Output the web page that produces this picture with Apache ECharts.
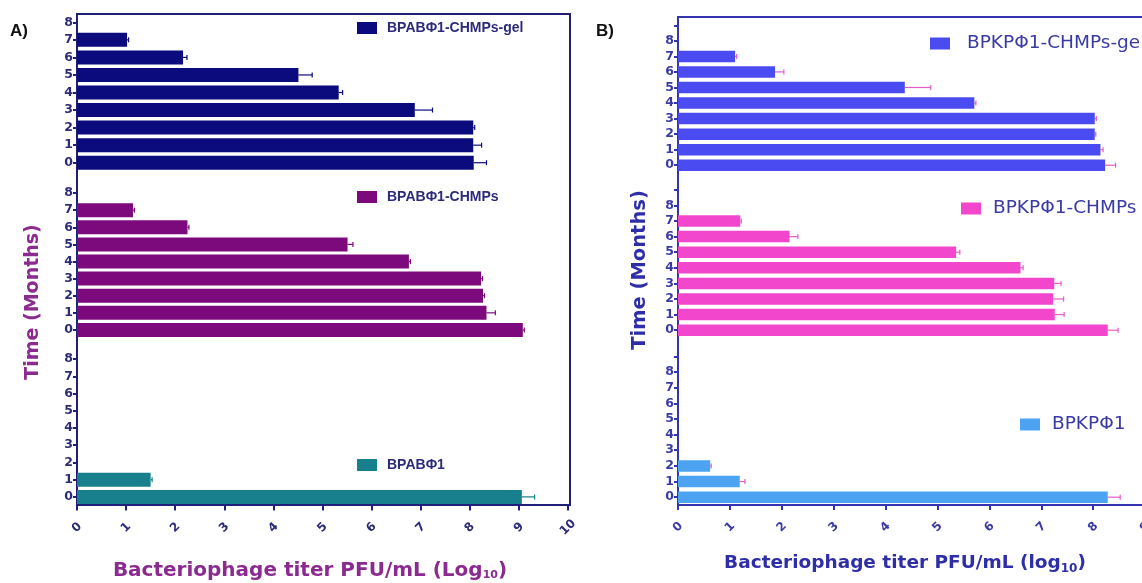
<!DOCTYPE html>
<html>
<head>
<meta charset="utf-8">
<script src="https://cdn.jsdelivr.net/npm/echarts@6/dist/echarts.min.js"></script>
<style>
  html, body { margin: 0; padding: 0; background: #fff; }
  #chart { width: 1142px; height: 583px; }
</style>
</head>
<body>
<div id="chart"></div>
<script>
// months on the y axes (index = month)
const monthsA = ['0', '1', '2', '3', '4', '5', '6', '7', '8'];
const monthsB = ['0', '1', '2', '3', '4', '5', '6', '7', '8', '9'];

// panel A, log10 titres by month, with one-sided errors
const namesA = ['BPABΦ1-CHMPs-gel', 'BPABΦ1-CHMPs', 'BPABΦ1'];
const gelA = [8.08, 8.07, 8.07, 6.88, 5.33, 4.51, 2.16, 1.02];
const gelAErr = [0.26, 0.17, 0.03, 0.36, 0.08, 0.28, 0.08, 0.03];
const chmpsA = [9.08, 8.34, 8.27, 8.23, 6.76, 5.51, 2.25, 1.14];
const chmpsAErr = [0.03, 0.18, 0.03, 0.03, 0.03, 0.11, 0.03, 0.03];
const freeA = [9.06, 1.5];
const freeAErr = [0.26, 0.03];

// panel B
const namesB = ['BPKPΦ1-CHMPs-gel', 'BPKPΦ1-CHMPs', 'BPKPΦ1'];
const gelB = [8.23, 8.14, 8.03, 8.03, 5.71, 4.37, 1.87, 1.1];
const gelBErr = [0.2, 0.05, 0.02, 0.03, 0.03, 0.5, 0.17, 0.03];
const chmpsB = [8.28, 7.26, 7.23, 7.25, 6.6, 5.36, 2.15, 1.2];
const chmpsBErr = [0.2, 0.18, 0.2, 0.13, 0.05, 0.07, 0.16, 0.02];
const freeB = [8.28, 1.19, 0.62];
const freeBErr = [0.24, 0.1, 0.02];

const colA = { axis: '#20207a', label: '#2b2b7a', title: '#8b2a8f', bars: ['#0b0b7d', '#7d0a7d', '#17808c'] };
const colB = { axis: '#3434b0', label: '#3a3aa5', title: '#2e2ea8', bars: ['#4b4bf2', '#f246cd', '#4ca3f2'], err: '#e65bc8' };

const chart = echarts.init(document.getElementById('chart'));

// sub plots: 0-2 panel A, 3-5 panel B, 6-7 frames
const frame = { outerBoundsMode: 'none' };
const grids = [
  { ...frame, left: 77, width: 491, top: 13.5, height: 158 },
  { ...frame, left: 77, width: 491, top: 184.5, height: 154 },
  { ...frame, left: 77, width: 491, top: 350.5, height: 155 },
  { ...frame, left: 678, width: 519, top: 17.5, height: 155.5 },
  { ...frame, left: 678, width: 519, top: 182, height: 156 },
  { ...frame, left: 678, width: 519, top: 348.5, height: 156.5 },
  { ...frame, left: 77, width: 493, top: 14, height: 491, show: true, borderColor: colA.axis, borderWidth: 2, backgroundColor: 'transparent' },
  { ...frame, left: 678, width: 560, top: 17, height: 488, show: true, borderColor: colB.axis, borderWidth: 2, backgroundColor: 'transparent' },
];

function xAxisFor(i, showLabels, c) {
  return {
    type: 'value', gridIndex: i, min: 0, max: 10, interval: 1,
    show: showLabels,
    axisLine: { show: false },
    splitLine: { show: false },
    axisTick: { show: true, length: 5, lineStyle: { color: c.axis, width: 2 } },
    axisLabel: {
      rotate: 45, align: 'center', verticalAlign: 'middle', margin: 22,
      color: c.label, fontWeight: 'bold', fontSize: 12, fontFamily: 'DejaVu Sans',
      showMinLabel: true, showMaxLabel: true,
    },
  };
}

function yAxisFor(i, months, c) {
  return {
    type: 'category', gridIndex: i, data: months,
    axisLine: { show: false },
    axisTick: { show: true, alignWithLabel: true, interval: 0, length: 4, lineStyle: { color: c.axis, width: 2 } },
    axisLabel: {
      interval: 0, margin: 4, color: c.label, fontWeight: 'bold', fontSize: 12.5, fontFamily: 'DejaVu Sans',
      formatter: (v) => (v === '9' ? '' : v),
    },
  };
}

function barSeries(i, name, vals, color, width) {
  return {
    type: 'bar', name, xAxisIndex: i, yAxisIndex: i, data: vals,
    barWidth: width, itemStyle: { color }, z: 3,
  };
}

function errSeries(i, vals, errs, color) {
  return {
    type: 'custom', xAxisIndex: i, yAxisIndex: i, z: 2,
    data: vals.map((v, k) => [v, errs[k], k]),
    encode: { x: 0, y: 2 },
    renderItem(params, api) {
      const a = api.coord([api.value(0), api.value(2)]);
      const b = api.coord([api.value(0) + api.value(1), api.value(2)]);
      const st = { stroke: color, lineWidth: 1.2 };
      return {
        type: 'group',
        children: [
          { type: 'line', shape: { x1: a[0], y1: a[1], x2: b[0], y2: b[1] }, style: st },
          { type: 'line', shape: { x1: b[0], y1: b[1] - 2.5, x2: b[0], y2: b[1] + 2.5 }, style: st },
        ],
      };
    },
  };
}

function legendFor(name, left, top, c, bold, size, family, gap) {
  return {
    data: [name], left, top, padding: 0, icon: 'rect', itemWidth: 20, itemHeight: 12, itemGap: 10,
    selectedMode: false,
    textStyle: {
      color: c.label, fontWeight: bold ? 'bold' : 'normal', fontSize: size, fontFamily: family,
      padding: [0, 0, 0, gap],
    },
  };
}

const xAxes = [
  xAxisFor(0, false, colA), xAxisFor(1, false, colA), xAxisFor(2, true, colA),
  xAxisFor(3, false, colB), xAxisFor(4, false, colB), xAxisFor(5, true, colB),
  { type: 'value', gridIndex: 6, show: false, min: 0, max: 10 },
  { type: 'value', gridIndex: 7, show: false, min: 0, max: 10 },
];
const yAxes = [
  yAxisFor(0, monthsA, colA), yAxisFor(1, monthsA, colA), yAxisFor(2, monthsA, colA),
  yAxisFor(3, monthsB, colB), yAxisFor(4, monthsB, colB), yAxisFor(5, monthsB, colB),
  { type: 'value', gridIndex: 6, show: false },
  { type: 'value', gridIndex: 7, show: false },
];

const titleFont = 'DejaVu Sans';

chart.setOption({
  animation: false,
  grid: grids,
  xAxis: xAxes,
  yAxis: yAxes,
  legend: [
    legendFor(namesA[0], 357, 21, colA, true, 14, 'Liberation Sans', 5),
    legendFor(namesA[1], 357, 190, colA, true, 14, 'Liberation Sans', 5),
    legendFor(namesA[2], 357, 458, colA, true, 14, 'Liberation Sans', 5),
    legendFor(namesB[0], 930, 34, colB, false, 18.5, 'DejaVu Sans', 12),
    legendFor(namesB[1], 961, 199, colB, false, 18.5, 'DejaVu Sans', 7),
    legendFor(namesB[2], 1020, 415, colB, false, 18.5, 'DejaVu Sans', 7),
  ],
  series: [
    errSeries(0, gelA, gelAErr, colA.bars[0]),
    barSeries(0, namesA[0], gelA, colA.bars[0], 14),
    errSeries(1, chmpsA, chmpsAErr, colA.bars[1]),
    barSeries(1, namesA[1], chmpsA, colA.bars[1], 14),
    errSeries(2, freeA, freeAErr, colA.bars[2]),
    barSeries(2, namesA[2], freeA, colA.bars[2], 14),
    errSeries(3, gelB, gelBErr, colB.err),
    barSeries(3, namesB[0], gelB, colB.bars[0], 11.5),
    errSeries(4, chmpsB, chmpsBErr, colB.err),
    barSeries(4, namesB[1], chmpsB, colB.bars[1], 11.5),
    errSeries(5, freeB, freeBErr, colB.err),
    barSeries(5, namesB[2], freeB, colB.bars[2], 11.5),
  ],
  graphic: [
    { type: 'text', left: 10, top: 23, style: { text: 'A)', fontSize: 17, fontWeight: 'bold', fill: '#111', fontFamily: 'Liberation Sans' } },
    { type: 'text', left: 596, top: 23, style: { text: 'B)', fontSize: 17, fontWeight: 'bold', fill: '#111', fontFamily: 'Liberation Sans' } },
    {
      type: 'text', x: 33, y: 302, rotation: Math.PI / 2,
      style: { text: 'Time (Months)', fontSize: 19, fontWeight: 'bold', fill: colA.title, fontFamily: titleFont, align: 'center', verticalAlign: 'middle' },
    },
    {
      type: 'text', x: 640, y: 270, rotation: Math.PI / 2,
      style: { text: 'Time (Months)', fontSize: 19.5, fontWeight: 'bold', fill: colB.title, fontFamily: titleFont, align: 'center', verticalAlign: 'middle' },
    },
    {
      type: 'text', x: 310, y: 571,
      style: {
        text: '{m|Bacteriophage titer PFU/mL (Log}{s|10}{m|)}',
        align: 'center', verticalAlign: 'middle', fill: colA.title,
        rich: {
          m: { fontSize: 20, fontWeight: 'bold', fontFamily: titleFont, fill: colA.title, lineHeight: 24 },
          s: { fontSize: 11, fontWeight: 'bold', fontFamily: titleFont, fill: colA.title, lineHeight: 24, verticalAlign: 'bottom', padding: [0, 0, 2, 0] },
        },
      },
    },
    {
      type: 'text', x: 905, y: 563,
      style: {
        text: '{m|Bacteriophage titer PFU/mL (log}{s|10}{m|)}',
        align: 'center', verticalAlign: 'middle', fill: colB.title,
        rich: {
          m: { fontSize: 18.5, fontWeight: 'bold', fontFamily: titleFont, fill: colB.title, lineHeight: 24 },
          s: { fontSize: 12, fontWeight: 'bold', fontFamily: titleFont, fill: colB.title, lineHeight: 24, verticalAlign: 'bottom', padding: [8, 0, 0, 0] },
        },
      },
    },
  ],
});
</script>
</body>
</html>
